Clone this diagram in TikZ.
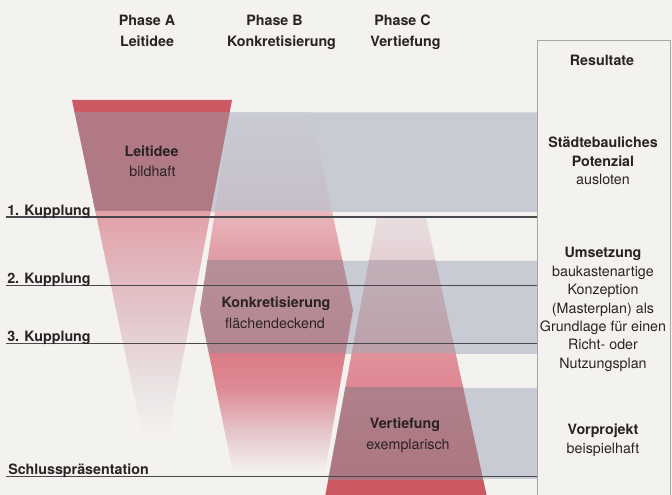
\documentclass[tikz,border=0pt]{standalone}
\usepackage{fontspec}
\setmainfont{TeX Gyre Heros}
\definecolor{bgc}{RGB}{244,242,238}
\definecolor{bandc}{RGB}{201,203,212}
\definecolor{redstrip}{RGB}{204,88,98}
\definecolor{txtc}{RGB}{42,34,36}
\definecolor{rulec}{RGB}{72,72,78}
\definecolor{boxc}{RGB}{165,165,170}
% shape A
\definecolor{aIa}{RGB}{178,121,131}
\definecolor{aIb}{RGB}{174,122,132}
\definecolor{aPa}{RGB}{226,160,168}
\definecolor{aPb}{RGB}{225,180,186}
\definecolor{aPc}{RGB}{228,205,209}
\definecolor{aPd}{RGB}{236,230,230}
% shape B
\definecolor{bIa}{RGB}{201,203,212}
\definecolor{bIb}{RGB}{198,190,200}
\definecolor{bPa}{RGB}{232,182,188}
\definecolor{bPb}{RGB}{224,155,163}
\definecolor{bMa}{RGB}{183,142,152}
\definecolor{bMb}{RGB}{179,134,145}
\definecolor{bRa}{RGB}{219,125,136}
\definecolor{bRb}{RGB}{221,138,148}
\definecolor{bRc}{RGB}{229,195,200}
% shape C
\definecolor{cPa}{RGB}{232,222,224}
\definecolor{cPb}{RGB}{228,208,212}
\definecolor{cMa}{RGB}{192,176,184}
\definecolor{cMb}{RGB}{188,160,170}
\definecolor{cRa}{RGB}{224,145,154}
\definecolor{cRb}{RGB}{222,135,146}
\definecolor{cIa}{RGB}{176,128,138}
\definecolor{cIb}{RGB}{172,118,128}
\newcommand\myslab[4]{\shade[top color=#3,bottom color=#4] (0,#1) rectangle (672,#2);}
\begin{document}
\begin{tikzpicture}[x=0.75pt,y=-0.75pt,
  lbl/.style={font=\fontsize{10.7}{12}\selectfont, text=txtc, inner sep=0pt, anchor=base},
  blbl/.style={lbl, font=\fontsize{10.7}{12}\selectfont\bfseries},
  klbl/.style={blbl, anchor=base west},
  rulestyle/.style={draw=rulec, line width=0.8pt},
  bandstyle/.style={fill=bandc},
  boxstyle/.style={draw=boxc, line width=0.6pt}]
\useasboundingbox (0,0) rectangle (672,495);
\fill[bgc] (0,0) rectangle (672,495);

% grey bands
\fill[bandstyle] (74.6,112.5) -- (537,112.5) -- (537,212) -- (95.5,212) -- cycle;
\fill[bandstyle] (207.3,261) -- (537,261) -- (537,354) -- (209,354) -- (200,310) -- cycle;
\fill[bandstyle] (345,388) -- (537,388) -- (537,479) -- (328,479) -- cycle;

% shape A (Leitidee)
\begin{scope}
\clip (72,100) -- (232,100) -- (167.4,440) -- (143.4,440) -- cycle;
\fill[redstrip] (0,99) rectangle (672,113);
\myslab{112.5}{212.5}{aIa}{aIb}
\myslab{212}{262}{aPa}{aPb}
\myslab{261.5}{330}{aPb}{aPc}
\myslab{329.5}{395}{aPc}{aPd}
\myslab{394.5}{440}{aPd}{bgc}
\end{scope}

% shape B (Konkretisierung)
\begin{scope}
\clip (230,112.5) -- (311,112.5) -- (353,310) -- (325,472) -- (233,472) -- (200,310) -- cycle;
\myslab{112}{212.5}{bIa}{bIb}
\myslab{212}{261.5}{bPa}{bPb}
\myslab{261}{354.5}{bMa}{bMb}
\myslab{354}{388}{bRa}{bRb}
\myslab{387.5}{430}{bRb}{bRc}
\myslab{429.5}{472}{bRc}{bgc}
\end{scope}

% shape C (Vertiefung)
\begin{scope}
\clip (377,217) -- (426,217) -- (487,497) -- (325,497) -- cycle;
\myslab{217}{261.5}{cPa}{cPb}
\myslab{261}{354.5}{cMa}{cMb}
\myslab{354}{388.5}{cRa}{cRb}
\myslab{388}{480.5}{cIa}{cIb}
\fill[redstrip] (0,480) rectangle (672,497);
\end{scope}

% result box
\coordinate (bxa) at (537,497);
\coordinate (bxb) at (537,40);
\coordinate (bxc) at (670,40);
\coordinate (bxd) at (670,497);
\draw[boxstyle] (bxa) -- (bxb) -- (bxc) -- (bxd);

% coupling rules
\coordinate (r1a) at (6,217);   \coordinate (r1b) at (537,217);
\coordinate (r2a) at (6,285.5); \coordinate (r2b) at (537,285.5);
\coordinate (r3a) at (6,343.5); \coordinate (r3b) at (537,343.5);
\coordinate (r4a) at (6,476.5); \coordinate (r4b) at (537,476.5);
\draw[rulestyle] (r1a) -- (r1b);
\draw[rulestyle] (r2a) -- (r2b);
\draw[rulestyle] (r3a) -- (r3b);
\draw[rulestyle] (r4a) -- (r4b);
\node[klbl] (k1) at (7,215.3) {1. Kupplung};
\node[klbl] (k2) at (7,283.8) {2. Kupplung};
\node[klbl] (k3) at (7,341.8) {3. Kupplung};
\node[klbl] (k4) at (8,474.8) {Schlusspräsentation};

% phase headers
\node[blbl] (pa1) at (147,25.5) {Phase A};
\node[blbl] (pa2) at (147,46.5) {Leitidee};
\node[blbl] (pb1) at (274.5,25.5) {Phase B};
\node[blbl] (pb2) at (281.5,46.5) {Konkretisierung};
\node[blbl] (pc1) at (402.5,25.5) {Phase C};
\node[blbl] (pc2) at (405.5,46.5) {Vertiefung};

% inner labels
\node[blbl] (ia1) at (151.5,157) {Leitidee};
\node[lbl]  (ia2) at (152.5,177) {bildhaft};
\node[blbl] (ib1) at (276,308) {Konkretisierung};
\node[lbl]  (ib2) at (275,328.5) {flächendeckend};
\node[blbl] (ic1) at (405,429) {Vertiefung};
\node[lbl]  (ic2) at (408,450) {exemplarisch};

% results column
\node[blbl] (res) at (602,66) {Resultate};
\node[blbl] (s1) at (603,148) {Städtebauliches};
\node[blbl] (s2) at (603,166.5) {Potenzial};
\node[lbl]  (s3) at (603,185) {ausloten};
\node[blbl] (u1) at (603,258) {Umsetzung};
\node[lbl]  (u2) at (603,276.5) {baukastenartige};
\node[lbl]  (u3) at (603,295) {Konzeption};
\node[lbl]  (u4) at (603,313.3) {(Masterplan) als};
\node[lbl]  (u5) at (603,331.7) {Grundlage für einen};
\node[lbl]  (u6) at (603,350) {Richt- oder};
\node[lbl]  (u7) at (603,368.3) {Nutzungsplan};
\node[blbl] (v1) at (603,435) {Vorprojekt};
\node[lbl]  (v2) at (603,453.5) {beispielhaft};
\end{tikzpicture}
\end{document}
